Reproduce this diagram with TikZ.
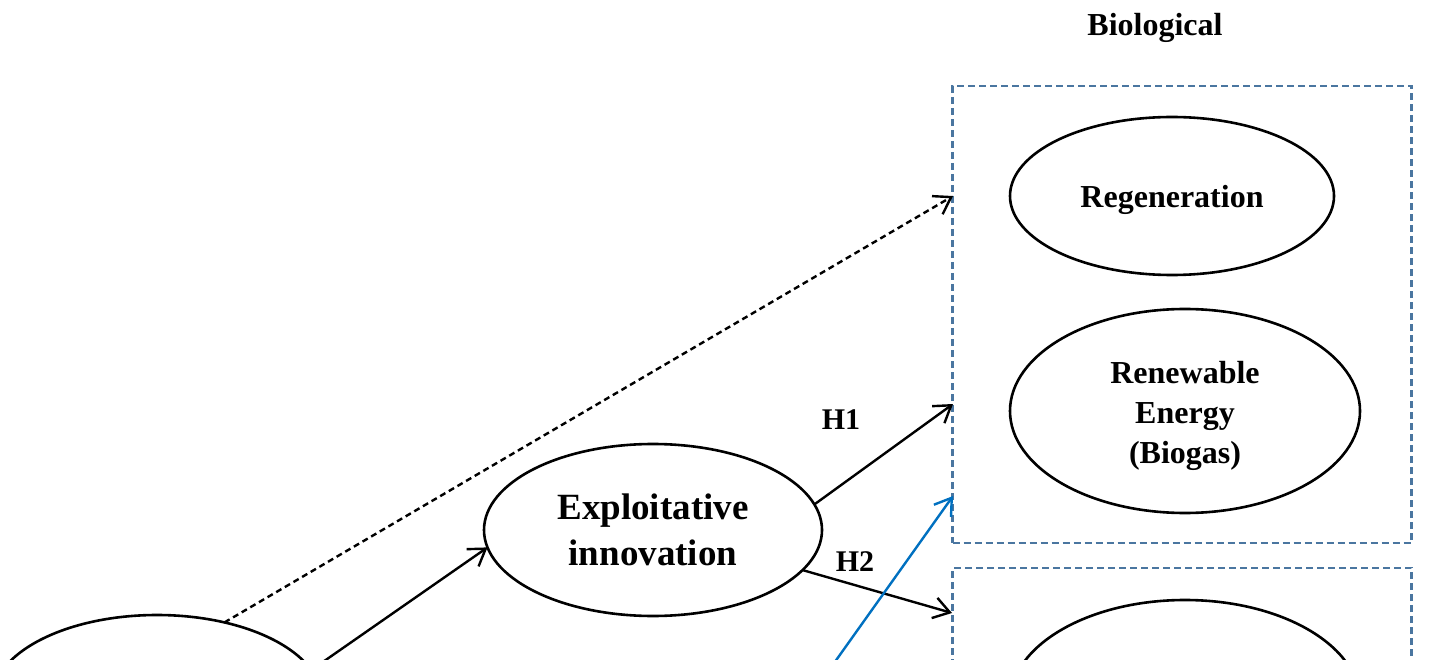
\documentclass[tikz,border=0pt]{standalone}
\usepackage{fontspec}
\setmainfont{Liberation Serif}
\usetikzlibrary{arrows.meta,shapes.geometric}
\definecolor{boxblue}{HTML}{4A76A0}
\definecolor{arrblue}{HTML}{0070C0}
\newcommand{\ovaltext}[1]{\vbox{\kern8pt\hbox{\begin{tabular}{@{}c@{}}#1\end{tabular}}}}
\tikzset{
  oval/.style={ellipse, draw=black, line width=2.6pt, inner sep=0pt, outer sep=0pt, align=center, font=\bfseries\fontsize{32}{40}\selectfont},
  groupbox/.style={draw=boxblue, line width=2.2pt, dash pattern=on 7pt off 4pt, inner sep=0pt, outer sep=0pt},
  link/.style={line width=2.4pt, -{Straight Barb[length=16pt,width=21pt,line width=2.4pt]}},
  lbl/.style={font=\bfseries\fontsize{30}{36}\selectfont, inner sep=0pt}
}
\begin{document}
\begin{tikzpicture}[x=1pt,y=-1pt]
\useasboundingbox (0,0) rectangle (1429,660);
\clip (0,0) rectangle (1429,660);
% group boxes
\node[groupbox, minimum width=459pt, minimum height=457pt] (bio) at (1182,314.5) {};
\node[groupbox, minimum width=459pt, minimum height=300pt] (bio2) at (1182,718) {};
\node[lbl, font=\bfseries\fontsize{32}{36}\selectfont] (biolab) at (1155,28) {Biological};
% ellipses
\node[oval, minimum width=324pt, minimum height=158pt] (regen) at (1172,196) {\ovaltext{Regeneration}};
\node[oval, minimum width=350pt, minimum height=204pt] (renew) at (1185,411) {\ovaltext{Renewable\\[0pt]Energy\\[0pt](Biogas)}};
\node[oval, minimum width=338pt, minimum height=172pt, font=\bfseries\fontsize{37}{46}\selectfont] (expl) at (653,530) {Exploitative\\innovation};
\node[oval, minimum width=330pt, minimum height=170pt] (left) at (157,700) {};
\node[oval, minimum width=350pt, minimum height=204pt] (right) at (1185,702) {};
% target points on box borders
\coordinate (tdash) at (953,196);
\coordinate (th1) at (953,404);
\coordinate (tblue) at (953,496);
\coordinate (th2) at (952,613);
\coordinate (sblue) at (822,680);
% connectors
\draw[link, dash pattern=on 6pt off 4pt] (left.49.3) -- (tdash);
\draw[link] (left.11.2) -- (expl.186.6);
\draw[link] (expl.9.6) -- (th1);
\draw[link] (expl.-15.7) -- (th2);
\draw[link, draw=arrblue] (sblue) -- (tblue);
% labels
\node[lbl] (h1) at (841,420) {H1};
\node[lbl] (h2) at (855,562) {H2};
\end{tikzpicture}
\end{document}
